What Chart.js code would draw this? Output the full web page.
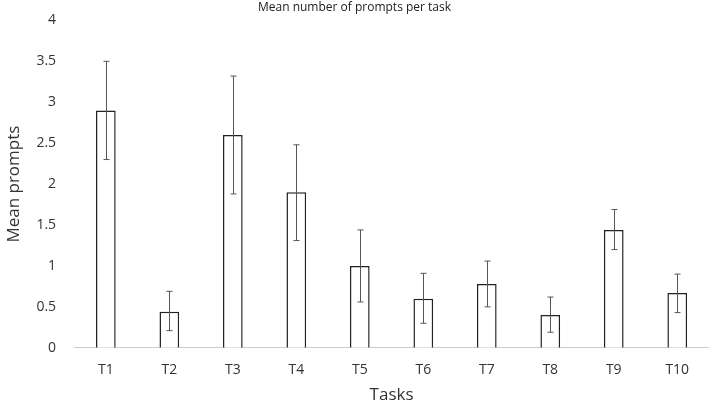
<!DOCTYPE html>
<html>
<head>
<meta charset="utf-8">
<script src="https://cdn.jsdelivr.net/npm/chart.js@4.4.0/dist/chart.umd.min.js"></script>
<style>
  html, body { margin: 0; padding: 0; background: #fff; }
  #wrap { width: 709px; height: 405px; }
</style>
</head>
<body>
<div id="wrap"><canvas id="chart"></canvas></div>
<script>
const tasks = ['T1', 'T2', 'T3', 'T4', 'T5', 'T6', 'T7', 'T8', 'T9', 'T10'];
const meanPrompts = [2.9, 0.44, 2.6, 1.9, 1.0, 0.6, 0.78, 0.4, 1.44, 0.67];
const errLow = [2.3, 0.21, 1.88, 1.31, 0.56, 0.3, 0.5, 0.19, 1.2, 0.43];
const errHigh = [3.5, 0.69, 3.32, 2.48, 1.44, 0.91, 1.06, 0.62, 1.69, 0.9];

// Draw error bars on top of the bars using the chart scales
const errorBars = {
  id: 'errorBars',
  afterDatasetsDraw(chart) {
    const ctx = chart.ctx;
    const x = chart.scales.x, y = chart.scales.y;
    ctx.save();
    ctx.strokeStyle = '#555';
    ctx.lineWidth = 1;
    tasks.forEach((t, i) => {
      const cx = Math.round(x.getPixelForValue(i)) + 0.5;
      const yl = y.getPixelForValue(errLow[i]);
      const yh = y.getPixelForValue(errHigh[i]);
      ctx.beginPath();
      ctx.moveTo(cx, yl); ctx.lineTo(cx, yh);
      ctx.moveTo(cx - 3, yl); ctx.lineTo(cx + 3, yl);
      ctx.moveTo(cx - 3, yh); ctx.lineTo(cx + 3, yh);
      ctx.stroke();
    });
    ctx.restore();
  }
};

Chart.defaults.font.family = 'Open Sans';
Chart.defaults.color = '#333';

new Chart(document.getElementById('chart'), {
  type: 'bar',
  data: {
    labels: tasks,
    datasets: [{
      data: meanPrompts,
      backgroundColor: '#fff',
      borderColor: '#222',
      borderWidth: 1.5,
      borderSkipped: 'bottom',
      barPercentage: 0.31,
      categoryPercentage: 1
    }]
  },
  options: {
    responsive: true,
    maintainAspectRatio: false,
    animation: false,
    layout: { padding: { top: 0, right: 0, left: 0, bottom: 0 } },
    plugins: {
      legend: { display: false },
      tooltip: { enabled: false },
      title: {
        display: true,
        text: 'Mean number of prompts per task',
        font: { size: 12, weight: 'normal' },
        color: '#222',
        padding: { top: 0, bottom: 6 }
      }
    },
    scales: {
      x: {
        grid: { display: false },
        border: { color: '#ccc' },
        ticks: { font: { size: 14 }, color: '#333', padding: 6 },
        title: { display: true, text: 'Tasks', font: { size: 17 }, color: '#333', padding: { top: 0, bottom: 0 } }
      },
      y: {
        min: 0, max: 4,
        grid: { display: false },
        border: { display: false },
        ticks: {
          stepSize: 0.5, font: { size: 14 }, color: '#333', padding: 10,
          callback: v => String(v)
        },
        title: { display: true, text: 'Mean prompts', font: { size: 17 }, color: '#333', padding: { bottom: 2 } }
      }
    }
  },
  plugins: [errorBars]
});
</script>
</body>
</html>
